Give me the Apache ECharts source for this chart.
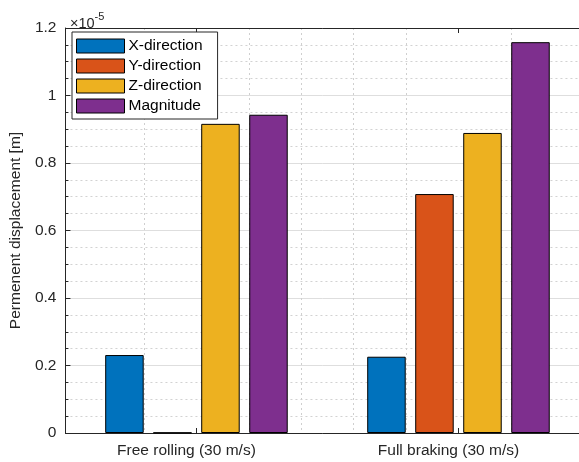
<!DOCTYPE html>
<html>
<head>
<meta charset="utf-8">
<script src="https://cdn.jsdelivr.net/npm/echarts@6/dist/echarts.min.js"></script>
<style>
html,body{margin:0;padding:0;background:#fff;}
#chart{width:579px;height:462px;}
</style>
</head>
<body>
<div id="chart"></div>
<script>
// ---- data (values in units of 1e-5 m) ----
const categories = ['Free rolling (30 m/s)', 'Full braking (30 m/s)'];
const categoryX = [1, 2];
const seriesNames = ['X-direction', 'Y-direction', 'Z-direction', 'Magnitude'];
const xDirection = [0.231, 0.226];
const yDirection = [0.001, 0.708];
const zDirection = [0.916, 0.889];
const magnitude = [0.943, 1.158];
const yTickLabels = ['0', '0.2', '0.4', '0.6', '0.8', '1', '1.2'];
// vertical grid line positions (x units)
const majorGridX = [1, 2];
const minorGridX = [0.6, 0.8, 1.2, 1.4, 1.6, 1.8, 2.2, 2.4];

const colors = ['#0072BD', '#D95319', '#EDB120', '#7E2F8E'];
const seriesValues = [xDirection, yDirection, zDirection, magnitude];

const FONT = '"Liberation Sans", Arial, Helvetica, sans-serif';
const TXT = '#262626';
const chart = echarts.init(document.getElementById('chart'), null, {renderer: 'canvas'});

const X_MIN = 0.5, X_MAX = 2.46;

const option = {
  animation: false,
  backgroundColor: '#ffffff',
  textStyle: {fontFamily: FONT, color: TXT},
  title: {
    left: 65, top: 6,
    text: '{a|×10}{b|-5}',
    textStyle: {
      fontWeight: 'normal',
      rich: {
        a: {fontFamily: FONT, fontSize: 14.5, fontWeight: 'normal', color: TXT, verticalAlign: 'bottom', lineHeight: 20},
        b: {fontFamily: FONT, fontSize: 11, fontWeight: 'normal', color: TXT, verticalAlign: 'top', lineHeight: 20, padding: [0,0,6,0]}
      }
    }
  },
  legend: {
    orient: 'vertical',
    left: 72, top: 32,
    padding: [6, 15, 5, 4],
    itemGap: 4,
    itemWidth: 48, itemHeight: 14,
    icon: 'rect',
    backgroundColor: '#ffffff',
    borderColor: '#262626',
    borderWidth: 1,
    borderRadius: 0,
    itemStyle: {borderColor: '#000', borderWidth: 1},
    textStyle: {fontFamily: FONT, fontSize: 15.5, color: '#000', lineHeight: 14, padding: [0,0,0,-1]},
    data: seriesNames
  },
  grid: {left: 65, top: 28, right: 0, bottom: 29, containLabel: false},
  xAxis: [
    {
      type: 'value', min: X_MIN, max: X_MAX, position: 'bottom',
      axisLine: {show: true, onZero: false, lineStyle: {color: TXT, width: 1}},
      axisTick: {show: true, inside: true, length: 5, customValues: majorGridX, lineStyle: {color: TXT}},
      axisLabel: {
        fontFamily: FONT, fontSize: 15.5, color: TXT, margin: 10, padding: [0, 20, 0, 0],
        customValues: categoryX,
        formatter: function (v) { return categories[categoryX.indexOf(v)]; }
      },
      splitLine: {show: true, showMinLine: false, showMaxLine: false, lineStyle: {color: '#dedede', width: 1, type: 'solid'}}
    },
    {
      type: 'value', min: X_MIN, max: X_MAX, position: 'top',
      axisLine: {show: true, onZero: false, lineStyle: {color: TXT, width: 1}},
      axisTick: {show: true, inside: true, length: 5, customValues: majorGridX, lineStyle: {color: TXT}},
      axisLabel: {show: false},
      splitLine: {show: false}
    },
    {
      type: 'value', min: X_MIN, max: X_MAX, position: 'bottom',
      axisLine: {show: false}, axisLabel: {show: false},
      axisTick: {show: false, customValues: minorGridX},
      splitLine: {show: true, showMinLine: false, showMaxLine: false, lineStyle: {color: '#cfcfcf', width: 1, type: [2, 3]}}
    }
  ],
  yAxis: {
    type: 'value', min: 0, max: 1.2, interval: 0.2,
    name: 'Permenent displacement [m]',
    nameLocation: 'middle', nameGap: 31,
    nameTextStyle: {fontFamily: FONT, fontSize: 15.5, color: TXT},
    axisLine: {show: true, lineStyle: {color: TXT, width: 1}},
    axisTick: {show: true, inside: true, length: 5, lineStyle: {color: TXT}},
    minorTick: {show: true, splitNumber: 4, length: 3, lineStyle: {color: TXT}},
    axisLabel: {
      fontFamily: FONT, fontSize: 15.5, color: TXT, margin: 9,
      formatter: function (v) { return yTickLabels[Math.round(v / 0.2)]; }
    },
    splitLine: {show: true, lineStyle: {color: '#dedede', width: 1}},
    minorSplitLine: {show: true, lineStyle: {color: '#d2d2d2', width: 1, type: [2, 3]}}
  },
  series: seriesNames.map(function (name, i) {
    return {
      name: name, type: 'bar', xAxisIndex: 0,
      data: categoryX.map(function (x, j) { return [x, seriesValues[i][j]]; }),
      barWidth: 38.5, barGap: '24.7%',
      itemStyle: {color: colors[i], borderColor: '#000', borderWidth: 1}
    };
  })
};
chart.setOption(option);
</script>
</body>
</html>
